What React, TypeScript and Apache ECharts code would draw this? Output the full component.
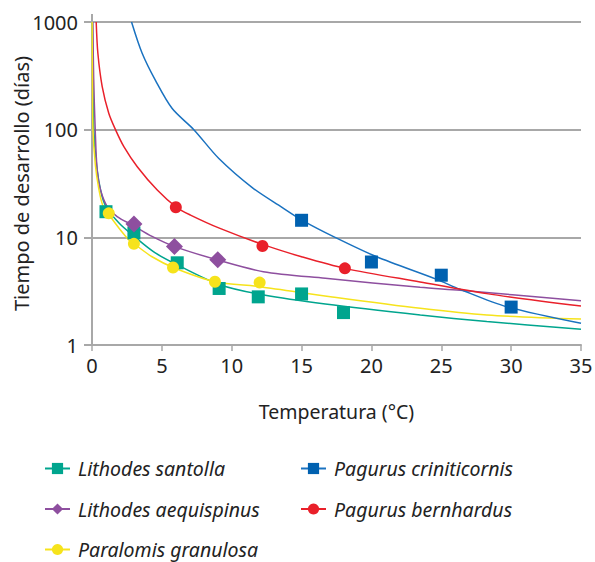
import React, { useEffect, useRef } from "react";
import * as echarts from "echarts";

// ---- Data ----
const speciesNames = [
  "Lithodes santolla",
  "Lithodes aequispinus",
  "Paralomis granulosa",
  "Pagurus criniticornis",
  "Pagurus bernhardus",
];

const xTickValues = [0, 5, 10, 15, 20, 25, 30, 35];
const yTickValues = [1, 10, 100, 1000];

// observed points [temperature, days]
const pointsSantolla = [[1, 17.3], [3, 11.0], [6.1, 5.8], [9.1, 3.35], [11.9, 2.8], [15, 2.98], [18, 2.0]];
const pointsAequispinus = [[3, 13.3], [5.9, 8.2], [9, 6.2]];
const pointsGranulosa = [[1.2, 16.7], [3, 8.7], [5.8, 5.25], [8.8, 3.87], [12, 3.8]];
const pointsCriniticornis = [[15, 14.4], [20, 5.9], [25, 4.45], [30, 2.25]];
const pointsBernhardus = [[6, 19], [12.2, 8.3], [18.1, 5.15]];

// fitted curves
const curveSantolla = [[0.03, 1000], [0.07, 300], [0.13, 100], [0.33, 47], [0.64, 26.5], [1.0, 19.3], [1.95, 13.5], [2.9, 10.5], [4.5, 7.2], [6.36, 5.34], [9.2, 3.61], [12.3, 2.91], [16.7, 2.4], [23.5, 1.9], [28.26, 1.65], [35, 1.4]];
const curveAequispinus = [[0.06, 1000], [0.12, 300], [0.23, 100], [0.37, 42], [0.61, 27.5], [1.09, 19.3], [1.8, 15.6], [2.9, 13.0], [4.3, 10.2], [5.92, 8.2], [9.0, 6.16], [12.26, 4.8], [16.7, 4.16], [23.48, 3.43], [26.34, 3.22], [35, 2.58]];
const curveGranulosa = [[0.01, 1000], [0.03, 300], [0.07, 100], [0.24, 47], [0.48, 28.5], [0.76, 20], [1.22, 16.2], [1.95, 12.1], [2.66, 9.4], [3.03, 8.67], [4.3, 6.6], [5.85, 5.22], [8.8, 3.87], [12, 3.48], [17.07, 2.81], [23.5, 2.19], [28.26, 1.9], [35, 1.74]];
const curveCriniticornis = [[2.83, 1000], [3.59, 512], [4.55, 285], [5.74, 157], [7.29, 100], [9.08, 54], [11.47, 29], [13.6, 19.0], [15.05, 14.4], [17.4, 10], [20.38, 6.6], [24.67, 4.07], [26.34, 3.29], [29.68, 2.27], [35, 1.59]];
const curveBernhardus = [[0.3, 1000], [0.42, 512], [0.73, 251], [1.2, 142], [1.68, 100], [2.28, 69.5], [3.24, 45.3], [4.67, 27.5], [6.05, 19], [7.05, 16.1], [9.16, 12.1], [12.2, 8.6], [15, 6.6], [18.1, 5.15], [23.48, 3.85], [28.25, 3.0], [35, 2.3]];

const curves = [curveSantolla, curveAequispinus, curveGranulosa, curveCriniticornis, curveBernhardus];
const points = [pointsSantolla, pointsAequispinus, pointsGranulosa, pointsCriniticornis, pointsBernhardus];

// ---- Styles ----
const markerColors = ["#00a58e", "#8e4f9f", "#f6e31c", "#0061b0", "#e9202a"];
const lineColors = ["#00a58e", "#8e4f9f", "#f6e31c", "#1a72c0", "#e9202a"];
const symbols = ["rect", "diamond", "circle", "rect", "circle"];
const symbolSizes = [13, 17, 12, 13, 12];
const scatterOrder = [0, 3, 1, 4, 2];

const FONT = "'Noto Sans', 'Open Sans', sans-serif";
const TEXT = "#222222";
const GRID = "#a8a8a8";

export default function App() {
  const ref = useRef<HTMLDivElement>(null);

  useEffect(() => {
    if (!ref.current) return;
    const chart = echarts.init(ref.current, undefined, { renderer: "svg" });

    const lineSeries = speciesNames.map((name, i) => ({
      name,
      type: "line",
      data: curves[i],
      showSymbol: false,
      symbol: symbols[i],
      symbolSize: symbolSizes[i],
      smooth: 0.3,
      clip: true,
      z: 2,
      lineStyle: { color: lineColors[i], width: 1.5 },
      itemStyle: { color: markerColors[i] },
    }));

    const scatterSeries = scatterOrder.map((i) => ({
      name: speciesNames[i],
      type: "scatter",
      data: points[i],
      symbol: symbols[i],
      symbolSize: symbolSizes[i],
      z: 3,
      itemStyle: { color: markerColors[i], opacity: 1 },
    }));

    const legendCommon = {
      orient: "vertical",
      itemWidth: 25,
      itemHeight: 14,
      itemGap: 20.5,
      padding: 0,
      height: 130,
      selectedMode: false,
      textStyle: {
        fontFamily: FONT,
        fontSize: 19.5,
        fontStyle: "italic",
        color: TEXT,
        padding: [0, 0, 0, 3],
        lineHeight: 19,
      },
    };

    chart.setOption({
      animation: false,
      backgroundColor: "#ffffff",
      grid: { left: 92, right: 14, top: 22, bottom: 217, containLabel: false, outerBoundsMode: "none" },
      xAxis: {
        type: "value",
        min: xTickValues[0],
        max: xTickValues[xTickValues.length - 1],
        interval: 5,
        name: "Temperatura (°C)",
        nameLocation: "middle",
        nameGap: 56,
        nameMoveOverlap: false,
        nameTextStyle: { fontFamily: FONT, fontSize: 19.5, color: TEXT },
        axisLine: { show: true, lineStyle: { color: GRID, width: 2 } },
        axisTick: { show: true, length: 6, lineStyle: { color: GRID, width: 1.5 } },
        axisLabel: { fontFamily: FONT, fontSize: 20, color: TEXT, margin: 10 },
        splitLine: { show: false },
      },
      yAxis: {
        type: "log",
        logBase: 10,
        min: yTickValues[0],
        max: yTickValues[yTickValues.length - 1],
        name: "Tiempo de desarrollo (días)",
        nameLocation: "middle",
        nameGap: 61,
        nameMoveOverlap: false,
        nameTextStyle: { fontFamily: FONT, fontSize: 20, color: TEXT },
        axisLine: { show: true, lineStyle: { color: GRID, width: 2 } },
        axisTick: { show: true, length: 8, lineStyle: { color: GRID, width: 2 } },
        axisLabel: { fontFamily: FONT, fontSize: 20, color: TEXT, margin: 14, formatter: (v: number) => String(v) },
        splitLine: { show: true, lineStyle: { color: GRID, width: 2 } },
        minorTick: { show: false },
      },
      graphic: [
        { type: "line", shape: { x1: 92, y1: 14, x2: 92, y2: 23 }, style: { stroke: GRID, lineWidth: 2 } },
      ],
      legend: [
        { ...legendCommon, left: 44, top: 458.5, data: [speciesNames[0], speciesNames[1], speciesNames[2]] },
        { ...legendCommon, left: 300, top: 458.5, data: [speciesNames[3], speciesNames[4]] },
      ],
      series: [...lineSeries, ...scatterSeries],
    });

    return () => chart.dispose();
  }, []);

  return <div ref={ref} style={{ position: "absolute", left: 0, top: 0, width: 595, height: 562 }} />;
}
